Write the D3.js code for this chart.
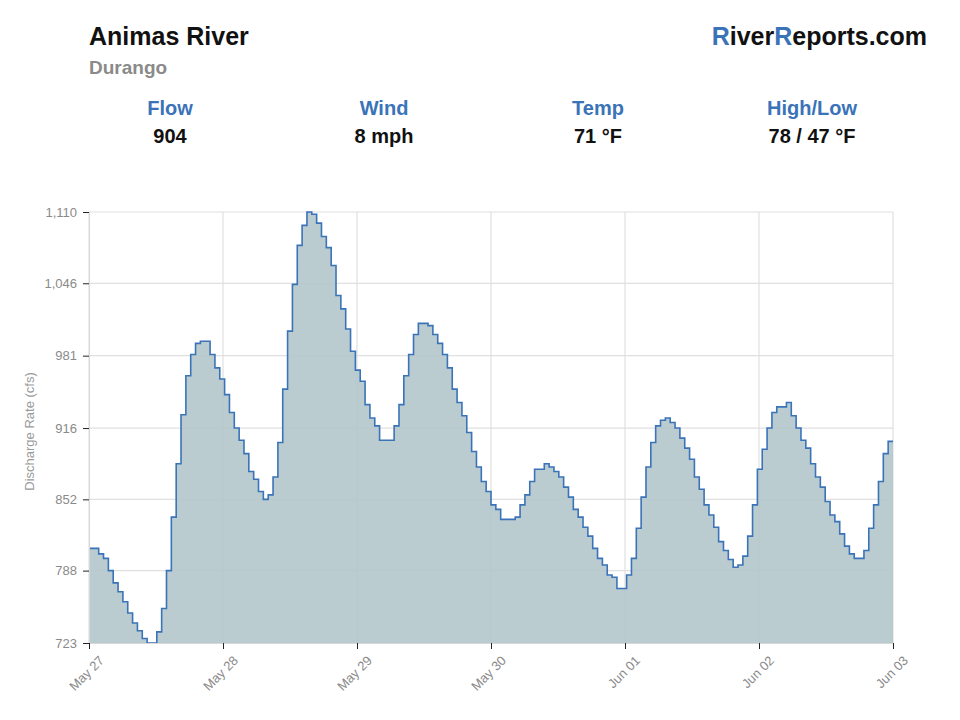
<!DOCTYPE html>
<html>
<head>
<meta charset="utf-8">
<script src="https://cdn.jsdelivr.net/npm/d3@7"></script>
<style>
  body { margin: 0; background: #fff; font-family: "Liberation Sans", Arial, sans-serif; }
  svg text { font-family: "Liberation Sans", Arial, sans-serif; }
</style>
</head>
<body>
<svg id="chart" width="960" height="720"></svg>
<script>
// hourly discharge readings (cfs), May 27 -> Jun 03
const flow = [
  808, 808, 803, 799, 788, 777, 769, 760, 750, 741, 734, 727, 723, 723,
  733, 754, 788, 836, 884, 928, 963, 982, 992, 994, 994,
  982, 970, 960, 946, 930, 916, 905, 893, 877, 870, 859, 852, 856, 872,
  903, 951, 1003, 1045, 1080, 1098, 1110, 1108, 1100, 1088, 1078, 1062,
  1035, 1023, 1005, 985, 968,
  958, 937, 925, 918, 905, 905, 905, 918, 937, 963, 982, 1000, 1010, 1010,
  1008, 1000, 992, 982, 970, 951, 939, 927, 912, 895, 881, 868, 859, 847,
  843, 834, 834, 834, 836, 847, 856, 868, 879, 879, 884, 881, 877, 872,
  863, 854, 843, 836, 827, 819, 808, 799, 793, 784, 782, 772, 772,
  784, 799, 826, 854, 881, 903, 918, 923, 925, 921, 916, 907, 898, 888,
  872, 861, 847, 838, 827, 814, 806, 798, 791, 793, 801, 819, 847, 879,
  897, 916, 930, 935, 935, 939, 927, 916, 905, 898, 884, 872, 863, 850,
  838, 832, 821, 810, 803, 799, 799, 806, 826, 847, 868, 893, 904
];
const yTicks = [723, 788, 852, 916, 981, 1046, 1110];
const xTickLabels = ["May 27", "May 28", "May 29", "May 30", "Jun 01", "Jun 02", "Jun 03"];

const stats = [
  { label: "Flow", value: "904" },
  { label: "Wind", value: "8 mph" },
  { label: "Temp", value: "71 °F" },
  { label: "High/Low", value: "78 / 47 °F" }
];

const blue = "#3b73b9";
const svg = d3.select("#chart");

// header
svg.append("text").attr("x", 89).attr("y", 45)
  .attr("font-size", 25).attr("font-weight", "bold").attr("fill", "#111")
  .text("Animas River");
svg.append("text").attr("x", 89).attr("y", 74)
  .attr("font-size", 19).attr("font-weight", "bold").attr("fill", "#8a8a8a")
  .text("Durango");

const brand = svg.append("text").attr("x", 927).attr("y", 45)
  .attr("text-anchor", "end")
  .attr("font-size", 25).attr("font-weight", "bold").attr("fill", "#111");
brand.append("tspan").attr("fill", blue).text("R");
brand.append("tspan").text("iver");
brand.append("tspan").attr("fill", blue).text("R");
brand.append("tspan").text("eports.com");

const statX = d3.scalePoint().domain(stats.map(d => d.label)).range([170, 812]);
const sg = svg.selectAll(".stat").data(stats).enter().append("g")
  .attr("transform", d => `translate(${statX(d.label)},0)`);
sg.append("text").attr("y", 115).attr("text-anchor", "middle")
  .attr("font-size", 20).attr("font-weight", "bold").attr("fill", blue)
  .text(d => d.label);
sg.append("text").attr("y", 143).attr("text-anchor", "middle")
  .attr("font-size", 20).attr("font-weight", "bold").attr("fill", "#111")
  .text(d => d.value);

// chart
const mLeft = 89, mRight = 893, mTop = 212, mBottom = 643;
const n = flow.length;
const x = d3.scaleLinear().domain([0, n]).range([mLeft, mRight]);
const y = d3.scaleLinear().domain([d3.min(flow), d3.max(flow)]).range([mBottom, mTop]);
const xTicks = d3.range(xTickLabels.length).map(i => i * n / (xTickLabels.length - 1));

// grid
svg.append("g").selectAll("line").data(yTicks).enter().append("line")
  .attr("x1", mLeft).attr("x2", mRight)
  .attr("y1", d => y(d)).attr("y2", d => y(d))
  .attr("stroke", "#e0e0e0").attr("stroke-width", 1.2);
svg.append("g").selectAll("line").data(xTicks).enter().append("line")
  .attr("x1", d => x(d)).attr("x2", d => x(d))
  .attr("y1", mTop).attr("y2", mBottom)
  .attr("stroke", "#e0e0e0").attr("stroke-width", 1.2);

// area + line (step, each reading holds for its hour)
const pts = flow.map((v, i) => [i, v]).concat([[n, flow[n - 1]]]);
const area = d3.area().curve(d3.curveStepAfter)
  .x(d => x(d[0])).y0(mBottom).y1(d => y(d[1]));
const line = d3.line().curve(d3.curveStepAfter)
  .x(d => x(d[0])).y(d => y(d[1]));

svg.append("path").datum(pts).attr("d", area)
  .attr("fill", "#b2c6ca").attr("fill-opacity", 0.9);
svg.append("path").datum(pts).attr("d", line)
  .attr("fill", "none").attr("stroke", blue).attr("stroke-width", 1.6);

// axes
const yAxis = svg.append("g").attr("transform", `translate(${mLeft},0)`)
  .call(d3.axisLeft(y).tickValues(yTicks).tickFormat(d3.format(",")).tickSize(6).tickPadding(6));
yAxis.select(".domain").attr("stroke", "#d8d8d8");
yAxis.selectAll(".tick line").attr("stroke", "#222");
yAxis.selectAll(".tick text").attr("fill", "#8a8a8a").attr("font-size", 13);

const xAxis = svg.append("g").attr("transform", `translate(0,${mBottom})`)
  .call(d3.axisBottom(x).tickValues(xTicks).tickFormat((d, i) => xTickLabels[i]).tickSize(6));
xAxis.select(".domain").attr("stroke", "#d8d8d8");
xAxis.selectAll(".tick line").attr("stroke", "#222");
xAxis.selectAll(".tick text")
  .attr("fill", "#8a8a8a").attr("font-size", 13)
  .attr("text-anchor", "end")
  .attr("dx", 0).attr("dy", 0)
  .attr("transform", "translate(9,12) rotate(-45)");

svg.append("text")
  .attr("transform", `translate(34,${(mTop + mBottom) / 2 + 4}) rotate(-90)`)
  .attr("text-anchor", "middle").attr("font-size", 13).attr("fill", "#9a9a9a")
  .text("Discharge Rate (cfs)");
</script>
</body>
</html>
